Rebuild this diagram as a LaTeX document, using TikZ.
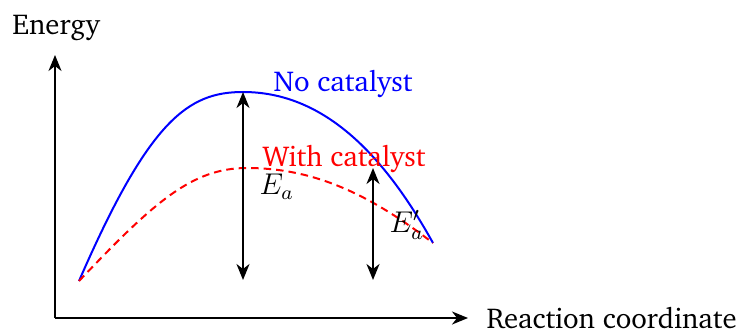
\documentclass[tikz,border=0pt]{standalone}
\usepackage[T1]{fontenc}
\usepackage{charter}
\usetikzlibrary{arrows.meta}
\begin{document}
\begin{tikzpicture}[x=0.4pt,y=-0.4pt,
  lbl/.style={inner sep=0pt,anchor=base west,font=\fontsize{11.5}{13}\selectfont},
  axis/.style={line width=0.8pt,-{Stealth[length=6.4pt,width=5.2pt,inset=2pt]}},
  ea/.style={line width=0.8pt,{Stealth[length=6.4pt,width=5.2pt,inset=2pt]}-{Stealth[length=6.4pt,width=5.2pt,inset=2pt]}},
  nocat/.style={blue,line width=0.8pt},
  withcat/.style={red,line width=0.8pt,dash pattern=on 3pt off 2pt}]
\useasboundingbox (0,0) rectangle (737,332);
\coordinate (O) at (55,318);
\coordinate (ytip) at (55,55);
\coordinate (xtip) at (468,318);
\draw[axis] (O) -- (ytip);
\draw[axis] (O) -- (xtip);
\node[lbl] (energy) at (12,35) {Energy};
\node[lbl] (rc) at (486,328) {Reaction coordinate};
\coordinate (s) at (79,281);
\coordinate (e) at (433,243);
\coordinate (bp) at (243,92);
\coordinate (rp) at (247,168);
\draw[nocat] (s) .. controls (149,120) and (188,92) .. (bp)
  .. controls (323,92) and (383,153) .. (e);
\draw[withcat] (s) .. controls (154,202) and (192,168) .. (rp)
  .. controls (317,168) and (373,197) .. (e);
\coordinate (a1top) at (243,92);
\coordinate (a1bot) at (243,280);
\coordinate (a2top) at (373,168);
\coordinate (a2bot) at (373,280);
\draw[ea] (a1bot) -- (a1top);
\draw[ea] (a2bot) -- (a2top);
\node[lbl,text=blue] (nc) at (273,92) {No catalyst};
\node[lbl,text=red] (wc) at (262,167) {With catalyst};
\node[lbl] (ea1) at (259,195) {$E_a$};
\node[lbl] (ea2) at (389,232) {$E_a'$};
\end{tikzpicture}
\end{document}
